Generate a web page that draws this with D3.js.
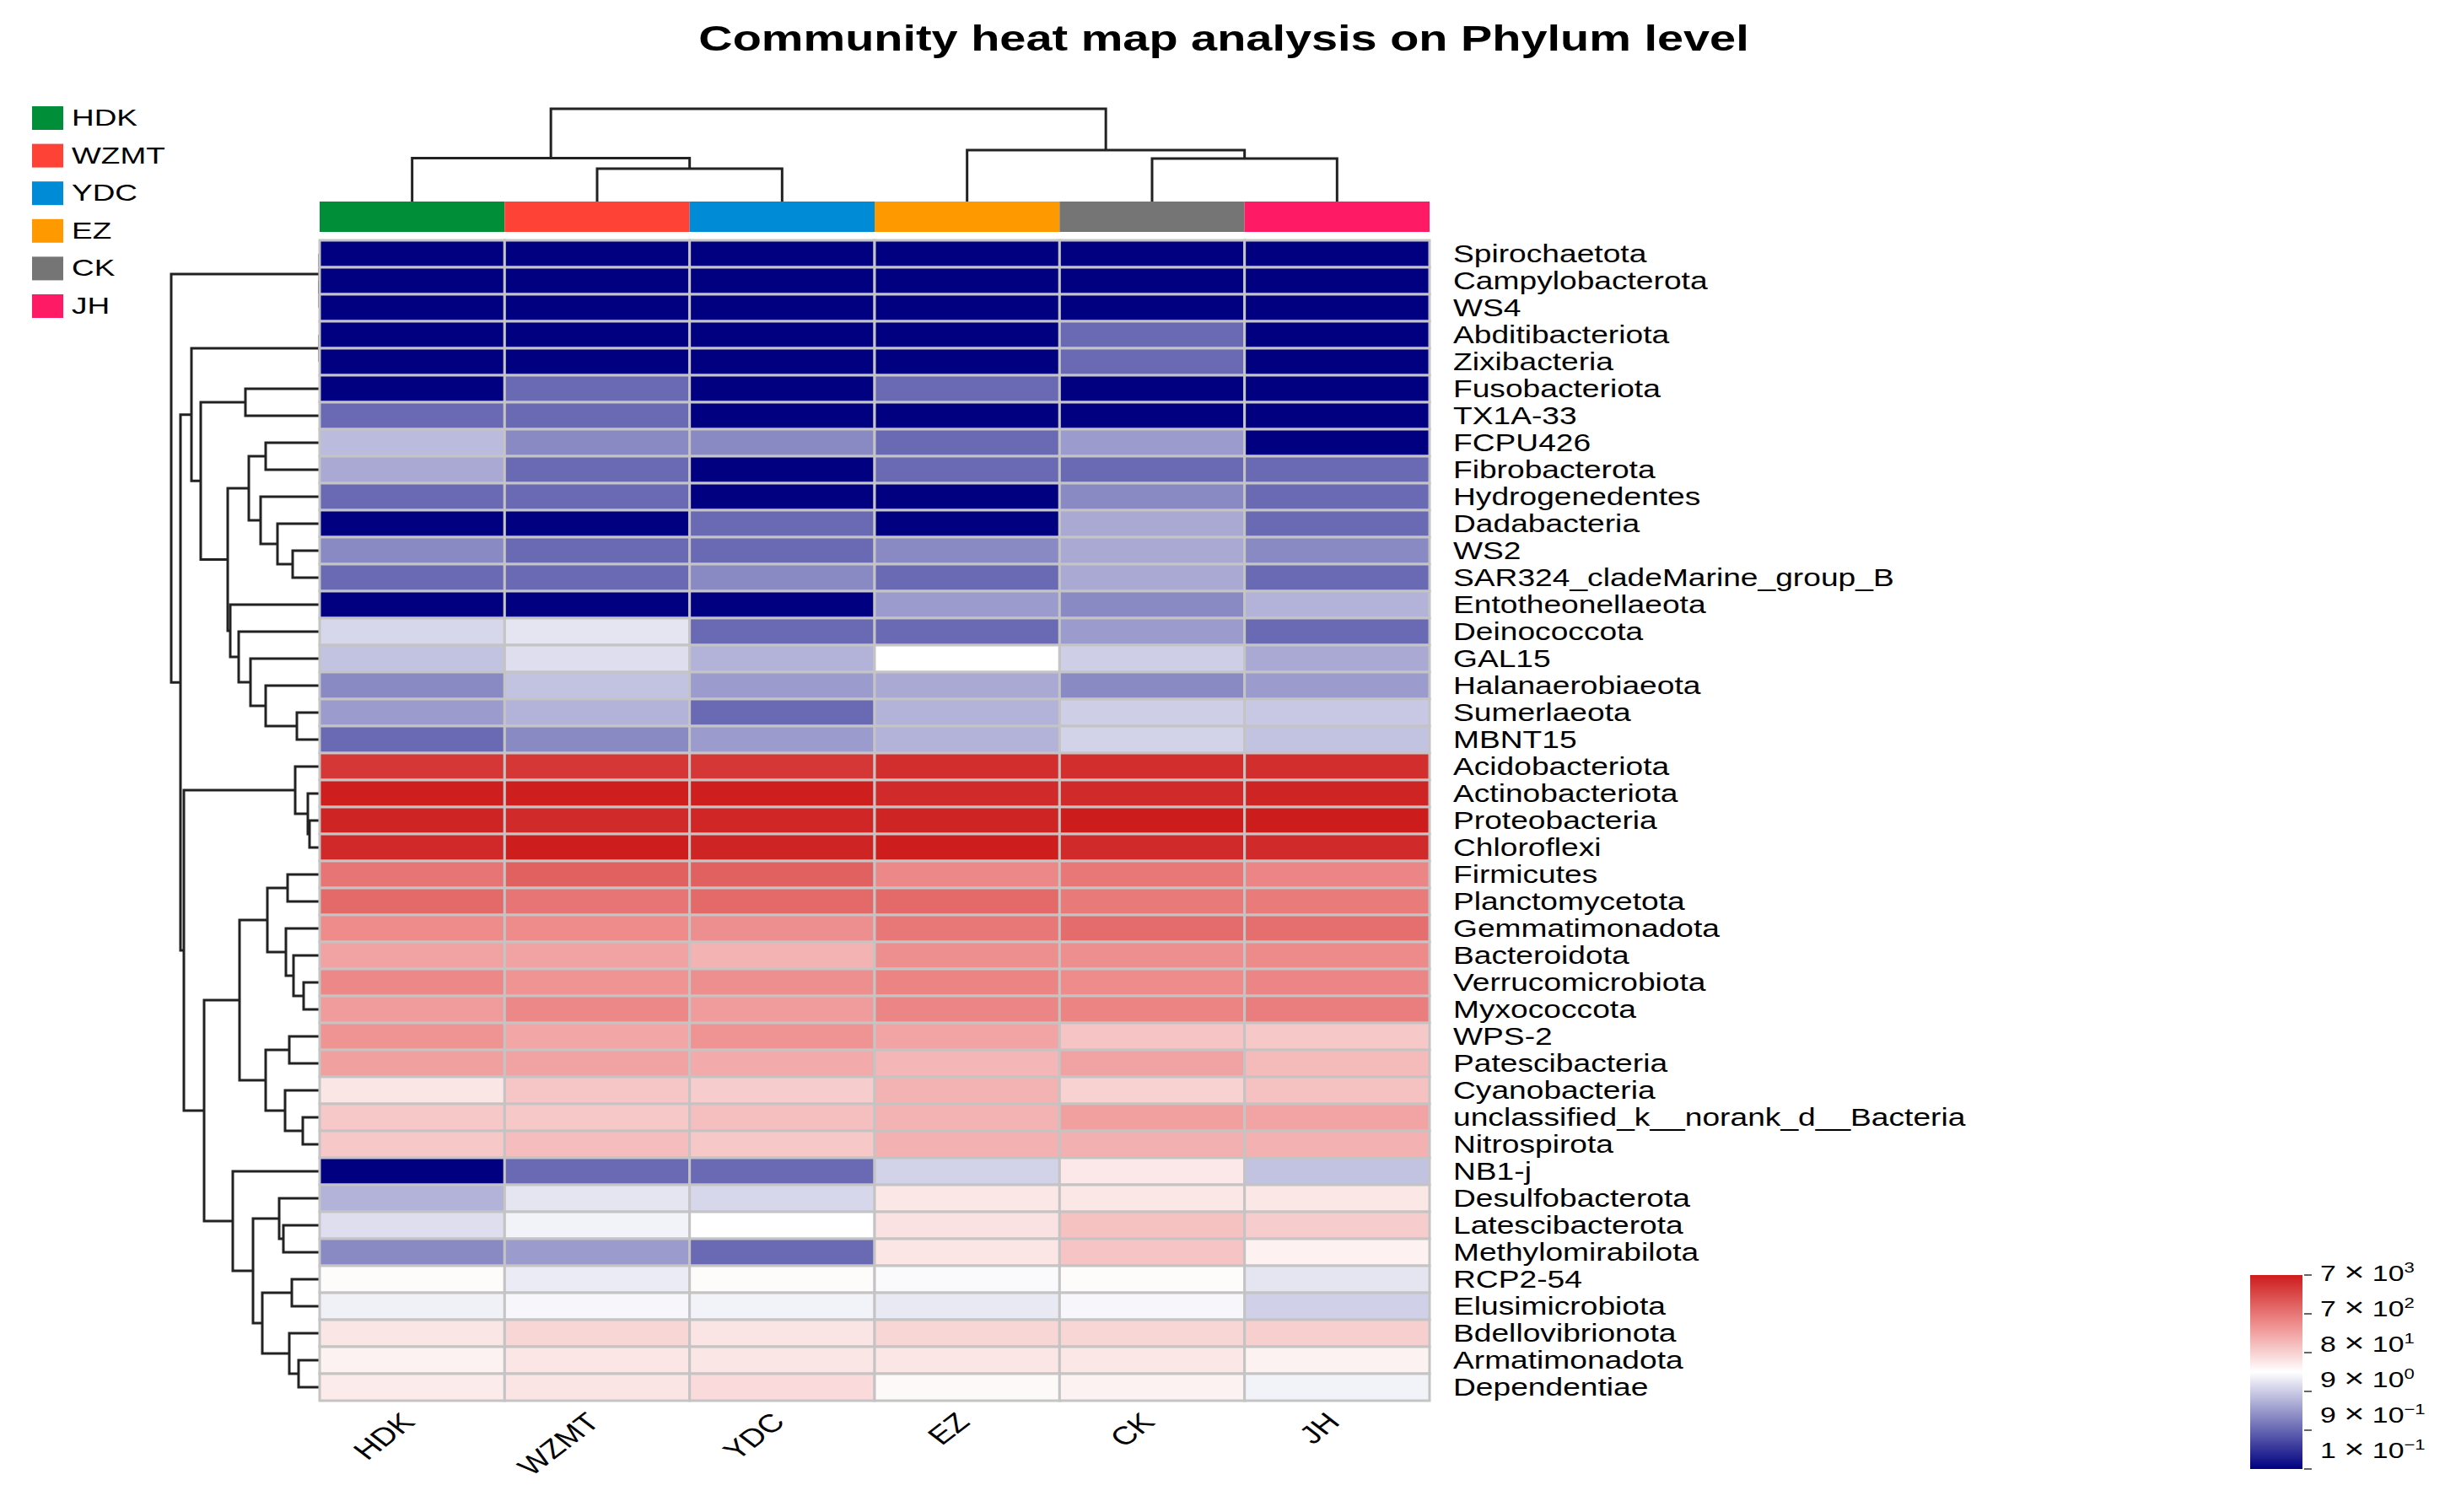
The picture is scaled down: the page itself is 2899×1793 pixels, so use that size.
<!DOCTYPE html>
<html>
<head>
<meta charset="utf-8">
<script src="https://cdn.jsdelivr.net/npm/d3@7"></script>
<style>
  html, body { margin: 0; background: #fff; }
  text { font-family: "Liberation Sans", Arial, sans-serif; fill: #000; }
</style>
</head>
<body>
<svg id="chart" width="2899" height="1793"></svg>
<script>
// the reference is stretched sideways, text gets the same treatment
let stretch = 1.3;

const title = 'Community heat map analysis on Phylum level';

const samples = ['HDK', 'WZMT', 'YDC', 'EZ', 'CK', 'JH'];
const sampleColors = ['#008f39', '#ff4136', '#008bd6', '#ff9900', '#757575', '#ff1a66'];

const phyla = [
  'Spirochaetota', 'Campylobacterota', 'WS4', 'Abditibacteriota', 'Zixibacteria', 'Fusobacteriota',
  'TX1A-33', 'FCPU426', 'Fibrobacterota', 'Hydrogenedentes', 'Dadabacteria', 'WS2',
  'SAR324_cladeMarine_group_B', 'Entotheonellaeota', 'Deinococcota', 'GAL15', 'Halanaerobiaeota',
  'Sumerlaeota', 'MBNT15', 'Acidobacteriota', 'Actinobacteriota', 'Proteobacteria', 'Chloroflexi',
  'Firmicutes', 'Planctomycetota', 'Gemmatimonadota', 'Bacteroidota', 'Verrucomicrobiota',
  'Myxococcota', 'WPS-2', 'Patescibacteria', 'Cyanobacteria', 'unclassified_k__norank_d__Bacteria',
  'Nitrospirota', 'NB1-j', 'Desulfobacterota', 'Latescibacterota', 'Methylomirabilota', 'RCP2-54',
  'Elusimicrobiota', 'Bdellovibrionota', 'Armatimonadota', 'Dependentiae'
];

// one row per phylum, columns in the order of samples
const abundance = [
  [.1, .1, .1, .1, .1, .1],
  [.1, .1, .1, .1, .1, .1],
  [.1, .1, .1, .1, .1, .1],
  [.1, .1, .1, .1, 1, .1],
  [.1, .1, .1, .1, 1, .1],
  [.1, 1, .1, 1, .1, .1],
  [1, 1, .1, .1, .1, .1],
  [6, 2, 2, 1, 3, .1],
  [4, 1, .1, 1, 1, 1],
  [1, 1, .1, .1, 2, 1],
  [.1, .1, 1, .1, 4, 1],
  [2, 1, 1, 2, 4, 2],
  [1, 1, 2, 1, 4, 1],
  [.1, .1, .1, 3, 2, 5],
  [11, 15, 1, 1, 3, 1],
  [7, 13, 5, 26.5, 9, 4],
  [2, 7, 3, 4, 2, 3],
  [3, 5, 1, 5, 9, 8],
  [1, 2, 3, 5, 10, 7],
  [3700, 3700, 3600, 4450, 4450, 4450],
  [6700, 6700, 6700, 5000, 5000, 5700],
  [5700, 5000, 5400, 5700, 7000, 7000],
  [5100, 6800, 5700, 6800, 5000, 5000],
  [760, 1260, 1260, 470, 710, 500],
  [1000, 760, 1000, 1000, 680, 650],
  [440, 440, 400, 700, 950, 900],
  [245, 245, 168, 400, 400, 450],
  [480, 365, 400, 520, 430, 500],
  [290, 470, 290, 500, 530, 620],
  [360, 230, 360, 240, 112, 100],
  [265, 245, 210, 155, 245, 140],
  [49, 107, 92, 168, 80, 120],
  [100, 100, 124, 168, 270, 240],
  [100, 130, 100, 175, 180, 175],
  [.1, 1, 1, 10, 46, 7],
  [5, 15, 11, 47, 47, 47],
  [13, 20, 26.5, 54, 120, 92],
  [2, 3, 1, 50, 112, 37],
  [29, 17, 29, 24, 29, 15],
  [19, 22, 20, 16.5, 22, 9.5],
  [48, 71, 51, 72, 72, 85],
  [36, 50, 48, 50, 47, 36],
  [43, 51, 65, 31, 36, 20]
];

// clusterings: [height, left, right], a bare number is a leaf index
const sampleTree = [110, [51.5, 0, [39, 1, 2]], [61, 3, [51, 4, 5]]];

const phylaTree = [176,
  [0, 0, [0, 1, 2]],
  [165,
    [152,
      [0, 3, 4],
      [141,
        [88, 5, 6],
        [109,
          [84, [64, 7, 8], [70, 9, [50, 10, [32, 11, 12]]]],
          [106, 13, [96, 14, [82, 15, [64, 16, [27, 17, 18]]]]]
        ]
      ]
    ],
    [161,
      [29, 19, [14, 20, [12, 21, 22]]],
      [137,
        [95,
          [62, [38, 23, 24], [40, 25, [31, 26, [19, 27, 28]]]],
          [64, [36, 29, 30], [41, 31, [20, 32, 33]]]
        ],
        [103, 34,
          [79,
            [48, 35, [43, 36, 37]],
            [68, [33, 38, 39], [36, 40, [25, 41, 42]]]
          ]
        ]
      ]
    ]
  ]
];

const legendTicks = [7000, 700, 80, 9, 0.9, 0.1];
const legendTickLabels = [['7', '3'], ['7', '2'], ['8', '1'], ['9', '0'], ['9', '\u22121'], ['1', '\u22121']];

let svg = d3.select('#chart');

let x = d3.scaleBand().domain(samples).range([379, 1695]);
let y = d3.scaleBand().domain(phyla).range([285, 1661]);

let color = d3.scaleLog()
  .domain([0.1, 26.5, 430, 7000])
  .range(['#000080', '#ffffff', '#ee8c8c', '#cd1c1c']);

function stretched(sel, px, py, extra, sx) {
  sel.attr('transform', (d, i) => 'translate(' + px(d, i) + ',' + py(d, i) + ') scale(' + (sx || stretch) + ',1)' + (extra || ''));
}

// title
svg.append('text')
  .attr('text-anchor', 'middle')
  .attr('font-size', 43)
  .attr('font-weight', 'bold')
  .call(stretched, () => 1451, () => 60, '', 1.3)
  .text(title);

// sample legend, top left
let legendY = d3.scalePoint().domain(samples).range([140, 363]);
let legend = svg.append('g');
legend.selectAll('rect').data(samples).join('rect')
  .attr('x', 38)
  .attr('y', d => legendY(d) - 14)
  .attr('width', 37)
  .attr('height', 28)
  .attr('fill', (d, i) => sampleColors[i]);
legend.selectAll('text').data(samples).join('text')
  .attr('font-size', 28)
  .call(stretched, () => 85, d => legendY(d) + 9, '', 1.32)
  .text(d => d);

// sample annotation bar
svg.append('g').selectAll('rect').data(samples).join('rect')
  .attr('x', d => x(d))
  .attr('y', 239)
  .attr('width', x.bandwidth())
  .attr('height', 36)
  .attr('fill', (d, i) => sampleColors[i]);

// leaves sit on band centres, a merge sits halfway between its two children
function layoutTree(node, leafPos) {
  if (typeof node === 'number') return { pos: leafPos(node), height: 0 };
  let a = layoutTree(node[1], leafPos);
  let b = layoutTree(node[2], leafPos);
  return { pos: (a.pos + b.pos) / 2, height: node[0], a: a, b: b };
}

function eachMerge(node, fn) {
  if (!node.a) return;
  fn(node);
  eachMerge(node.a, fn);
  eachMerge(node.b, fn);
}

let dendro = svg.append('g')
  .attr('fill', 'none')
  .attr('stroke', '#222')
  .attr('stroke-width', 3);

// row dendrogram on the left, zero height merges end up under the cells
let rowHeight = d3.scaleLinear().domain([0, 176]).range([379, 203]);
eachMerge(layoutTree(phylaTree, i => y(phyla[i]) + y.bandwidth() / 2), n => {
  dendro.append('path').attr('d',
    'M' + rowHeight(n.a.height) + ',' + n.a.pos +
    'H' + rowHeight(n.height) +
    'V' + n.b.pos +
    'H' + rowHeight(n.b.height));
});

// column dendrogram on top
let colHeight = d3.scaleLinear().domain([0, 110]).range([239, 129]);
eachMerge(layoutTree(sampleTree, i => x(samples[i]) + x.bandwidth() / 2), n => {
  dendro.append('path').attr('d',
    'M' + n.a.pos + ',' + colHeight(n.a.height) +
    'V' + colHeight(n.height) +
    'H' + n.b.pos +
    'V' + colHeight(n.b.height));
});

// heat map cells
let rows = svg.append('g').selectAll('g').data(abundance).join('g');
rows.selectAll('rect')
  .data((d, i) => d.map((v, j) => ({ value: v, phylum: phyla[i], sample: samples[j] })))
  .join('rect')
  .attr('x', d => x(d.sample))
  .attr('y', d => y(d.phylum))
  .attr('width', x.bandwidth())
  .attr('height', y.bandwidth())
  .attr('fill', d => color(d.value))
  .attr('stroke', '#c4c4c4')
  .attr('stroke-width', 3);

// row labels
svg.append('g').selectAll('text').data(phyla).join('text')
  .attr('font-size', 29.5)
  .call(stretched, () => 1723, d => y(d) + y.bandwidth() / 2 + 10, '', 1.26)
  .text(d => d);

// column labels
svg.append('g').selectAll('text').data(samples).join('text')
  .attr('font-size', 30)
  .attr('text-anchor', 'end')
  .call(stretched, d => x(d) + x.bandwidth() / 2 + 5, () => 1688, ' rotate(-45)')
  .text(d => d);

// colour key, bottom right
let keyY = d3.scaleLog().domain([7000, 0.1]).range([1512, 1742]);
let defs = svg.append('defs');
let grad = defs.append('linearGradient').attr('id', 'key')
  .attr('x1', 0).attr('x2', 0).attr('y1', 0).attr('y2', 1);
grad.selectAll('stop').data(d3.range(0, 1.001, 0.02)).join('stop')
  .attr('offset', d => d)
  .attr('stop-color', d => color(keyY.invert(1512 + d * 230)));

svg.append('rect')
  .attr('x', 2668).attr('y', 1512)
  .attr('width', 62).attr('height', 230)
  .attr('fill', 'url(#key)');

let tickY = d3.scalePoint().domain(legendTicks).range([1512, 1742]);
svg.append('g').selectAll('line').data(legendTicks).join('line')
  .attr('x1', 2732).attr('x2', 2741)
  .attr('y1', d => tickY(d)).attr('y2', d => tickY(d))
  .attr('stroke', '#333').attr('stroke-width', 1.5);

let keyLabelY = d3.scalePoint().domain(legendTicks).range([1519, 1729]);
let keyLabels = svg.append('g').selectAll('text').data(legendTicks).join('text')
  .attr('font-size', 26)
  .call(stretched, () => 2751, d => keyLabelY(d));
keyLabels.append('tspan').text((d, i) => legendTickLabels[i][0] + ' ');
keyLabels.append('tspan').attr('font-size', 32).text('\u00d7');
keyLabels.append('tspan').text(' 10');
keyLabels.append('tspan')
  .attr('font-size', 17)
  .attr('dy', -10)
  .text((d, i) => legendTickLabels[i][1]);
</script>
</body>
</html>
